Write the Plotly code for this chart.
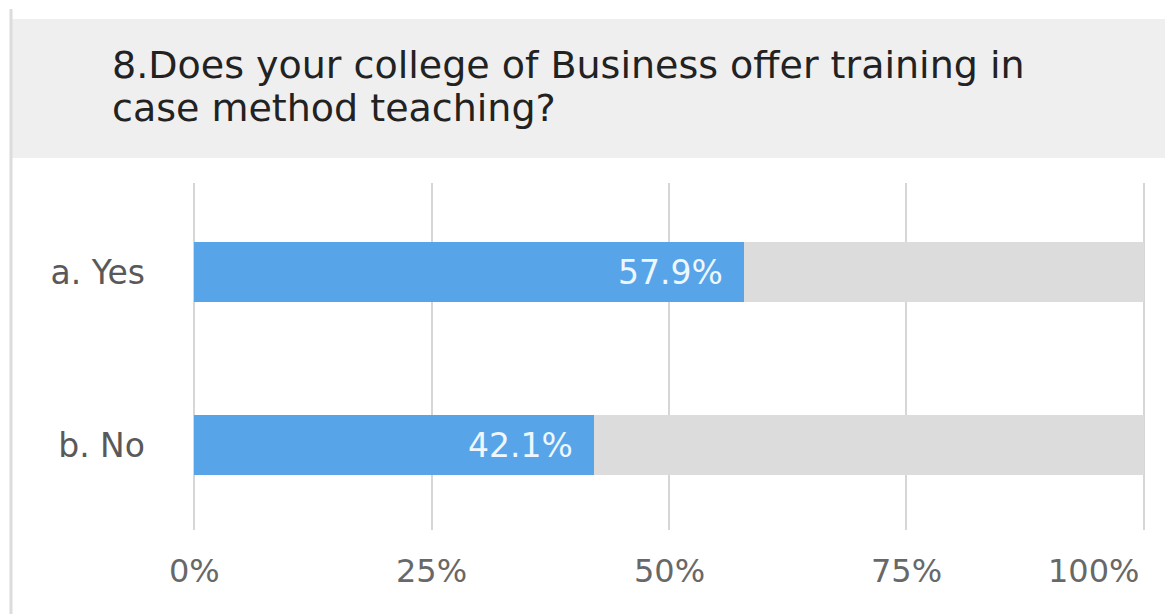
import plotly.graph_objects as go

# Survey question 8 results
title_lines = [
    "8.Does your college of Business offer training in",
    "case method teaching?",
]
categories = ["a. Yes", "b. No"]
percentages = [57.9, 42.1]
track_values = [100, 100]
tick_values = [0, 25, 50, 75, 100]
tick_labels = ["0%", "25%", "50%", "75%", "100%"]

BLUE = "#57a5e8"
TRACK = "#dcdcdc"
FONT = "DejaVu Sans, Verdana, sans-serif"

# plot-area geometry in pixels
W_FIG, H_FIG = 1165, 614
L, R, T, B = 193, 1145, 183, 530


def px_x(px):
    return (px - L) / (R - L)


def px_y(py):
    return (B - py) / (B - T)


fig = go.Figure()

# full-width grey tracks behind each answer
fig.add_trace(go.Bar(
    y=categories, x=track_values, orientation="h",
    marker=dict(color=TRACK, line=dict(width=0)),
    width=0.345, hoverinfo="skip", showlegend=False,
))
# answer shares
fig.add_trace(go.Bar(
    y=categories, x=percentages, orientation="h",
    marker=dict(color=BLUE, line=dict(width=0)),
    width=0.345, showlegend=False,
))

# value labels inside the bar ends
for cat, val in zip(categories, percentages):
    fig.add_annotation(
        x=val, y=cat, xref="x", yref="y",
        text=f"{val:.1f}%", showarrow=False,
        xanchor="right", yanchor="middle", xshift=-19,
        font=dict(family=FONT, size=33, color="#eef7ff"),
    )

# percentage scale under the grid; the last label is kept inside the page
for i, (val, lab) in enumerate(zip(tick_values, tick_labels)):
    last = i == len(tick_values) - 1
    fig.add_annotation(
        x=val, y=px_y(571), xref="x", yref="paper",
        text=lab, showarrow=False,
        xanchor="right" if last else "center", yanchor="middle",
        xshift=-3 if last else 0,
        font=dict(family=FONT, size=32, color="#686868"),
    )

# title band and left edge rule
fig.add_shape(type="rect", xref="paper", yref="paper",
              x0=px_x(12), x1=px_x(W_FIG + 5), y0=px_y(158), y1=px_y(19),
              fillcolor="#efefef", line=dict(width=0), layer="below")
fig.add_shape(type="line", xref="paper", yref="paper",
              x0=px_x(11), x1=px_x(11), y0=px_y(9), y1=px_y(H_FIG + 5),
              line=dict(color="#dcdcdc", width=3))

for line, cy in zip(title_lines, [65, 108]):
    fig.add_annotation(
        x=px_x(110), y=px_y(cy), xref="paper", yref="paper",
        text=line, showarrow=False, xanchor="left", yanchor="middle",
        font=dict(family=FONT, size=38, color="#222222"),
    )

fig.update_layout(
    width=W_FIG, height=H_FIG,
    margin=dict(l=L, r=W_FIG - R, t=T, b=H_FIG - B, pad=0),
    paper_bgcolor="white", plot_bgcolor="white",
    barmode="overlay", bargap=0,
    xaxis=dict(
        range=[-0.15, 100.15], tickvals=tick_values, showticklabels=False,
        showgrid=True, gridcolor="#d6d6d6", gridwidth=2, zeroline=False,
        showline=False, ticks="", fixedrange=True,
    ),
    yaxis=dict(
        categoryorder="array", categoryarray=categories,
        range=[1.49, -0.514], showgrid=False, zeroline=False,
        ticks="", ticklabelstandoff=47,
        tickfont=dict(family=FONT, size=33, color="#595959"),
        fixedrange=True,
    ),
)

fig.write_html("out.html")
